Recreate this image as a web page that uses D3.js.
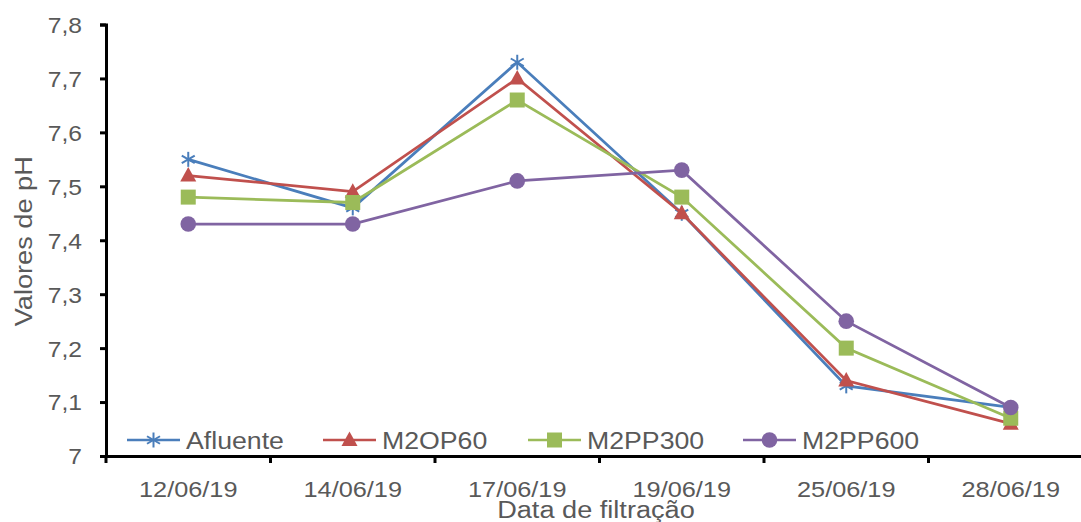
<!DOCTYPE html>
<html>
<head>
<meta charset="utf-8">
<script src="https://cdn.jsdelivr.net/npm/d3@7"></script>
<style>
  html, body { margin: 0; padding: 0; background: #fff; }
  svg { display: block; font-family: "Liberation Sans", Arial, sans-serif; }
</style>
</head>
<body>
<svg id="chart" width="1081" height="522"></svg>
<script>
// Sampling dates and pH readings per filter
const dates = ["12/06/19", "14/06/19", "17/06/19", "19/06/19", "25/06/19", "28/06/19"];
const afluente = [7.55, 7.46, 7.73, 7.45, 7.13, 7.09];
const m2op60   = [7.52, 7.49, 7.70, 7.45, 7.14, 7.06];
const m2pp300  = [7.48, 7.47, 7.66, 7.48, 7.20, 7.07];
const m2pp600  = [7.43, 7.43, 7.51, 7.53, 7.25, 7.09];
const yTicks = [7.0, 7.1, 7.2, 7.3, 7.4, 7.5, 7.6, 7.7, 7.8];

const series = [
  { name: "Afluente", values: afluente, color: "#4A7EBB", marker: "star" },
  { name: "M2OP60",   values: m2op60,   color: "#C0504D", marker: "triangle" },
  { name: "M2PP300",  values: m2pp300,  color: "#9BBB59", marker: "square" },
  { name: "M2PP600",  values: m2pp600,  color: "#8064A2", marker: "circle" }
];

const svg = d3.select("#chart");
const plotLeft = 106, plotRight = 1093, plotTop = 24.5, plotBottom = 456;
const textColor = "#595959";

// Widen glyphs a little, like the wide Arial rendering of the original chart
function widen(sel, factor) {
  sel.each(function () {
    const w = this.getComputedTextLength();
    d3.select(this).attr("textLength", w * factor).attr("lengthAdjust", "spacingAndGlyphs");
  });
}

const x = d3.scaleBand().domain(dates).range([plotLeft, plotRight]);
const y = d3.scaleLinear().domain([7.0, 7.8]).range([plotBottom, plotTop]);
const fmt = v => v === 7 ? "7" : d3.format(".1f")(v).replace(".", ",");

// Y axis
const yAxis = svg.append("g").attr("transform", `translate(${plotLeft},0)`)
  .call(d3.axisLeft(y).tickValues(yTicks).tickFormat(fmt).tickSize(6).tickPadding(18));
yAxis.select(".domain").attr("stroke", "#000").attr("stroke-width", 3);
yAxis.selectAll(".tick line").attr("stroke", "#000").attr("stroke-width", 3);
yAxis.selectAll(".tick text").attr("fill", textColor).style("font-size", "22px")
  .attr("dy", "0.36em");
widen(yAxis.selectAll(".tick text"), 1.12);

// X axis
const xAxis = svg.append("g").attr("transform", `translate(0,${plotBottom})`)
  .call(d3.axisBottom(x).tickSize(0).tickPadding(25));
xAxis.select(".domain").attr("stroke", "#000").attr("stroke-width", 3);
xAxis.selectAll(".tick text").attr("fill", textColor).style("font-size", "22px");
widen(xAxis.selectAll(".tick text"), 1.15);
// Category boundary ticks
xAxis.selectAll(".bound").data(d3.range(dates.length + 1)).enter().append("line")
  .attr("class", "bound")
  .attr("x1", i => plotLeft + i * x.step()).attr("x2", i => plotLeft + i * x.step())
  .attr("y1", 0).attr("y2", 7)
  .attr("stroke", "#000").attr("stroke-width", 3);

// Axis titles
const yTitle = svg.append("text").attr("transform", `translate(32,${(plotTop + plotBottom) / 2 + 1}) rotate(-90)`)
  .attr("text-anchor", "middle").attr("fill", textColor).style("font-size", "23px")
  .text("Valores de pH");
widen(yTitle, 1.18);
const xTitle = svg.append("text").attr("x", 596).attr("y", 518)
  .attr("text-anchor", "middle").attr("fill", textColor).style("font-size", "23px")
  .text("Data de filtração");
widen(xTitle, 1.18);

function drawMarker(g, type, color) {
  if (type === "star") {
    const r = 7.5;
    for (const a of [0, 60, 120]) {
      const rad = a * Math.PI / 180;
      g.append("line")
        .attr("x1", -r * Math.sin(rad)).attr("y1", -r * Math.cos(rad))
        .attr("x2", r * Math.sin(rad)).attr("y2", r * Math.cos(rad))
        .attr("stroke", color).attr("stroke-width", 2);
    }
  } else if (type === "triangle") {
    g.append("path").attr("d", "M0,-8.5 L8,6 L-8,6 Z").attr("fill", color);
  } else if (type === "square") {
    g.append("rect").attr("x", -7.5).attr("y", -7.5).attr("width", 15).attr("height", 15).attr("fill", color);
  } else {
    g.append("circle").attr("r", 7.8).attr("fill", color);
  }
}

const line = d3.line().x((d, i) => x(dates[i]) + x.bandwidth() / 2).y(d => y(d));

series.forEach(s => {
  svg.append("path").datum(s.values)
    .attr("d", line).attr("fill", "none")
    .attr("stroke", s.color).attr("stroke-width", 2.75);
  s.values.forEach((v, i) => {
    const g = svg.append("g")
      .attr("transform", `translate(${x(dates[i]) + x.bandwidth() / 2},${y(v)})`);
    drawMarker(g, s.marker, s.color);
  });
});

// Legend inside plot area
const legendX = [127, 323, 528, 743];
series.forEach((s, i) => {
  const g = svg.append("g").attr("transform", `translate(${legendX[i]},440)`);
  g.append("line").attr("x1", 0).attr("x2", 53).attr("y1", 0).attr("y2", 0)
    .attr("stroke", s.color).attr("stroke-width", 2.5);
  const m = g.append("g").attr("transform", "translate(26.5,0)");
  drawMarker(m, s.marker, s.color);
  const t = g.append("text").attr("x", 59).attr("y", 9).attr("fill", textColor)
    .style("font-size", "23px").text(s.name);
  widen(t, 1.16);
});
</script>
</body>
</html>
